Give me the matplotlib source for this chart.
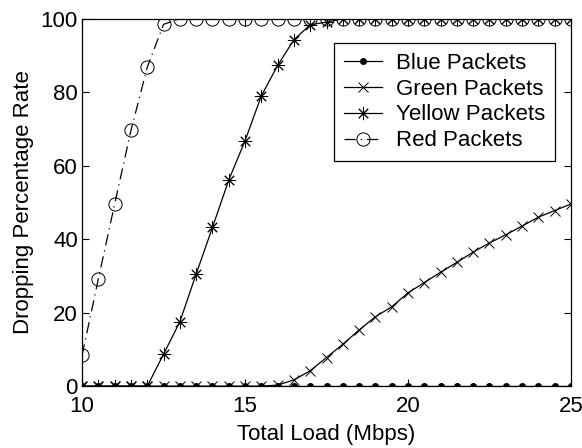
import matplotlib
matplotlib.use('Agg')
import matplotlib.pyplot as plt

plt.rcParams['font.family'] = ['Liberation Sans', 'DejaVu Sans']

load = [10 + 0.5 * i for i in range(31)]

blue = [0] * 31
green = [0, 0, 0, 0, 0, 0, 0, 0, 0, 0, 0, 0, 0.3, 1.7, 4.2, 7.8, 11.4, 15.3,
         18.9, 21.6, 25.4, 28.2, 31.0, 33.7, 36.5, 39.0, 41.2, 43.6, 46.0, 47.8, 49.6]
yellow = [0, 0, 0, 0, 0, 8.7, 17.5, 30.5, 43.2, 56.1, 66.8, 79.0, 87.3, 94.3,
          98.4, 99.1, 100, 100, 100, 100, 100, 100, 100, 100, 100, 100, 100,
          100, 100, 100, 100]
red = [8.4, 29.2, 49.6, 69.6, 86.8, 98.5] + [100] * 25

fs = 16

fig = plt.figure(figsize=(5.82, 4.48), dpi=100)
ax = fig.add_axes([0.141, 0.138, 0.84, 0.82])

ax.plot(load, blue, color='black', lw=0.9, marker='o', ms=4, label='Blue Packets')
ax.plot(load, green, color='black', lw=0.9, marker='x', ms=6.5, mew=0.7, label='Green Packets')
ax.plot(load, yellow, color='black', lw=0.9, marker=(8, 2, 0), ms=9.5, mew=0.7, label='Yellow Packets')
ax.plot(load, red, color='black', lw=0.9, ls=(0, (9, 4, 1, 4)), marker='o', ms=9.5,
        mfc='none', mew=0.7, label='Red Packets')

ax.set_xlim(10, 25)
ax.set_ylim(0, 100)
ax.set_xticks([10, 15, 20, 25])
ax.set_yticks([0, 20, 40, 60, 80, 100])
ax.tick_params(direction='in', top=True, right=True, labelsize=fs, length=5)
ax.tick_params(axis='x', pad=7)
ax.tick_params(axis='y', pad=3)
ax.set_xlabel('Total Load (Mbps)', fontsize=fs, labelpad=5)
ax.set_ylabel('Dropping Percentage Rate', fontsize=fs, labelpad=5)
for s in ax.spines.values():
    s.set_linewidth(0.9)

leg = ax.legend(loc='upper right', bbox_to_anchor=(0.967, 0.935), fontsize=fs,
                fancybox=False, edgecolor='black', framealpha=1,
                handlelength=1.7, handletextpad=0.6, borderpad=0.45,
                labelspacing=0.22, borderaxespad=0)
leg.get_frame().set_linewidth(0.9)

fig.savefig('out.png', dpi=100)
